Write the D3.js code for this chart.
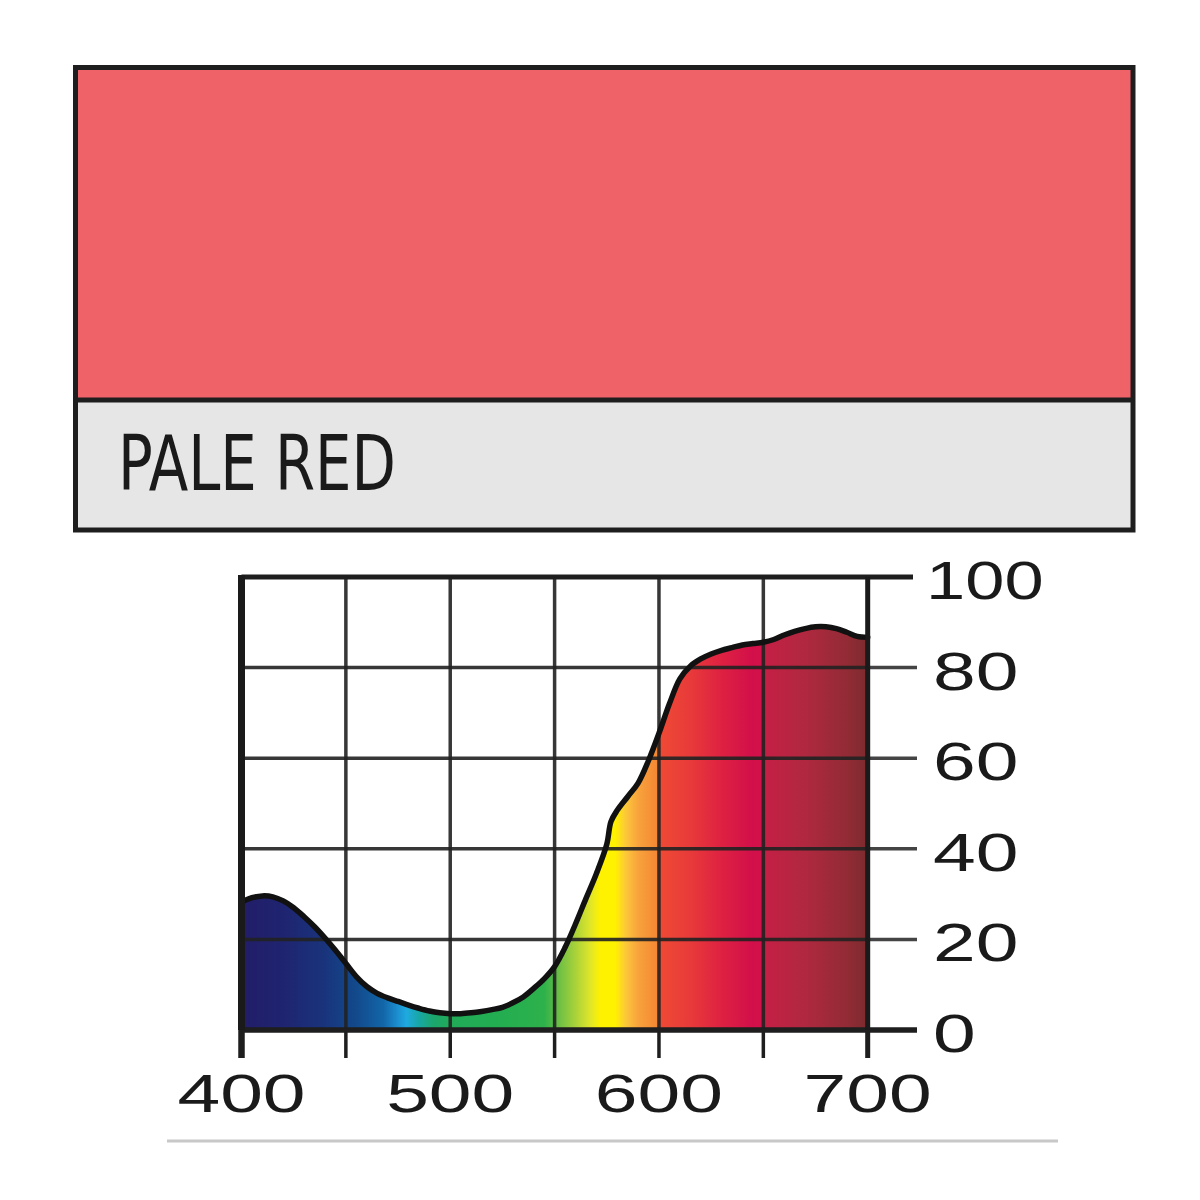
<!DOCTYPE html>
<html>
<head>
<meta charset="utf-8">
<script src="https://cdn.jsdelivr.net/npm/d3@7"></script>
<style>
  html, body { margin: 0; padding: 0; background: #fff; }
  svg { display: block; }
</style>
</head>
<body>
<svg id="chart" width="1200" height="1200"></svg>
<script>
// ---- data ----
const filterName = "PALE RED";
const swatchColor = "#EF6268";
const wavelengths = [400,405,410,415,420,425,430,435,440,445,450,455,460,465,470,475,480,485,490,495,500,505,510,515,520,525,530,535,540,545,550,555,560,565,570,575,577,580,585,590,595,600,605,610,615,620,625,630,635,640,645,650,655,660,665,670,675,680,685,690,695,700];
const transmission = [28.2,29.2,29.6,29.4,28.5,27,25,22.8,20.3,17.6,14.7,11.8,9.6,8.1,7.1,6.3,5.5,4.8,4.2,3.8,3.6,3.6,3.8,4.1,4.5,5,6,7.3,9.2,11.3,14,18.2,23.4,29,34.5,41,46,48.5,51.5,54.5,59.5,65.5,72,77.5,80.3,81.9,83,83.8,84.4,85,85.3,85.6,86.2,87.2,88,88.6,89,89,88.6,87.8,86.9,86.7];
const xTicks = [400,450,500,550,600,650,700];
const xTickLabels = [400,500,600,700];
const yTicks = [0,20,40,60,80,100];
const spectrumNm = [400,420,440,455,468,474,479,485,492,500,520,545,552,560,567,572,579,584,590,598,599.5,600.5,615,630,645,649.5,650.5,670,690,700];
const spectrumColors = ["#221d68","#1f2470","#19347c","#124a8c","#1266a8","#1a8acc","#1faae0","#18a7a6","#1ca76c","#21ab58","#22ad52","#2db14b","#6cbf45","#a9d23a","#dfe52a","#fff200","#fff200","#fcc83a","#f8a33c","#f58a35","#f58634","#ef4a35","#e83a3a","#de2142","#d20f4a","#d2124a","#c51f45","#b0283f","#922b35","#7c2b2e"];

// ---- layout ----
const svg = d3.select("#chart");
const x = d3.scaleLinear().domain([400, 700]).range([241.5, 867.7]);
const y = d3.scaleLinear().domain([0, 100]).range([1030, 577]);

// swatch box
svg.append("rect").attr("x", 75.5).attr("y", 67.5).attr("width", 1057.5).attr("height", 462.5)
  .attr("fill", "#E6E6E6");
svg.append("rect").attr("x", 75.5).attr("y", 67.5).attr("width", 1057.5).attr("height", 332.5)
  .attr("fill", swatchColor);
svg.append("line").attr("x1", 75.5).attr("x2", 1133).attr("y1", 400).attr("y2", 400)
  .attr("stroke", "#1e1e1e").attr("stroke-width", 5);
svg.append("rect").attr("x", 75.5).attr("y", 67.5).attr("width", 1057.5).attr("height", 462.5)
  .attr("fill", "none").attr("stroke", "#1e1e1e").attr("stroke-width", 5);
svg.append("text").attr("x", 118).attr("y", 490)
  .attr("font-family", "'Liberation Sans Narrow', 'DejaVu Sans Condensed', 'Liberation Sans', sans-serif")
  .attr("font-size", 76).attr("fill", "#1a1a1a")
  .attr("textLength", 278).attr("lengthAdjust", "spacingAndGlyphs")
  .text(filterName);

// gradient
const defs = svg.append("defs");
const grad = defs.append("linearGradient").attr("id", "spec")
  .attr("gradientUnits", "userSpaceOnUse")
  .attr("x1", x(400)).attr("x2", x(700)).attr("y1", 0).attr("y2", 0);
spectrumNm.forEach((nm, i) => {
  grad.append("stop").attr("offset", (nm - 400) / 300).attr("stop-color", spectrumColors[i]);
});

const pts = wavelengths.map((w, i) => [w, transmission[i]]);

// area fill
const area = d3.area().x(d => x(d[0])).y0(y(0)).y1(d => y(d[1])).curve(d3.curveCatmullRom.alpha(0.5));
svg.append("path").datum(pts).attr("d", area).attr("fill", "url(#spec)");

// horizontal gridlines + right ticks
const gridColor = "#222";
yTicks.filter(t => t > 0 && t < 100).forEach(t => {
  svg.append("line").attr("x1", x(400)).attr("x2", x(700)).attr("y1", y(t)).attr("y2", y(t))
    .attr("stroke", gridColor).attr("stroke-width", 3.5).attr("opacity", 0.9);
  svg.append("line").attr("x1", x(700)).attr("x2", 917).attr("y1", y(t)).attr("y2", y(t))
    .attr("stroke", "#444").attr("stroke-width", 3.5);
});
// vertical gridlines
xTicks.filter(t => t > 400 && t < 700).forEach(t => {
  svg.append("line").attr("x1", x(t)).attr("x2", x(t)).attr("y1", y(100)).attr("y2", y(0))
    .attr("stroke", gridColor).attr("stroke-width", 3.5).attr("opacity", 0.9);
});
// bottom ticks
xTicks.forEach(t => {
  const w = (t === 400) ? 6.5 : (t === 700 ? 5 : 3.5);
  svg.append("line").attr("x1", x(t)).attr("x2", x(t)).attr("y1", y(0)).attr("y2", 1058)
    .attr("stroke", "#1e1e1e").attr("stroke-width", w);
});

// curve
const line = d3.line().x(d => x(d[0])).y(d => y(d[1])).curve(d3.curveCatmullRom.alpha(0.5));
svg.append("path").datum(pts).attr("d", line).attr("fill", "none")
  .attr("stroke", "#111").attr("stroke-width", 5.5).attr("stroke-linejoin", "round").attr("stroke-linecap", "round");

// frame
svg.append("line").attr("x1", x(400)).attr("x2", 913).attr("y1", y(100)).attr("y2", y(100))
  .attr("stroke", "#1e1e1e").attr("stroke-width", 5);
svg.append("line").attr("x1", x(400)).attr("x2", 917).attr("y1", y(0)).attr("y2", y(0))
  .attr("stroke", "#1e1e1e").attr("stroke-width", 5.5);
svg.append("line").attr("x1", x(400)).attr("x2", x(400)).attr("y1", y(100) - 2).attr("y2", y(0))
  .attr("stroke", "#1a1a1a").attr("stroke-width", 7);
svg.append("line").attr("x1", x(700)).attr("x2", x(700)).attr("y1", y(100)).attr("y2", y(0))
  .attr("stroke", "#1a1a1a").attr("stroke-width", 5);

// labels
const labelFont = "'Liberation Sans', Arial, Helvetica, sans-serif";
yTicks.forEach(t => {
  svg.append("text")
    .attr("transform", `translate(${t === 100 ? 926 : 933},${y(t) + 22}) scale(${t === 100 ? 1.33 : 1.45},1)`)
    .attr("font-family", labelFont).attr("font-size", 53).attr("fill", "#1a1a1a")
    .attr("text-anchor", "start").text(t);
});
xTickLabels.forEach(t => {
  svg.append("text")
    .attr("transform", `translate(${x(t)},1112) scale(1.45,1)`)
    .attr("font-family", labelFont).attr("font-size", 53).attr("fill", "#1a1a1a")
    .attr("text-anchor", "middle").text(t);
});

// bottom rule
svg.append("line").attr("x1", 167).attr("x2", 1058).attr("y1", 1141).attr("y2", 1141)
  .attr("stroke", "#c8c8c8").attr("stroke-width", 3);
</script>
</body>
</html>
